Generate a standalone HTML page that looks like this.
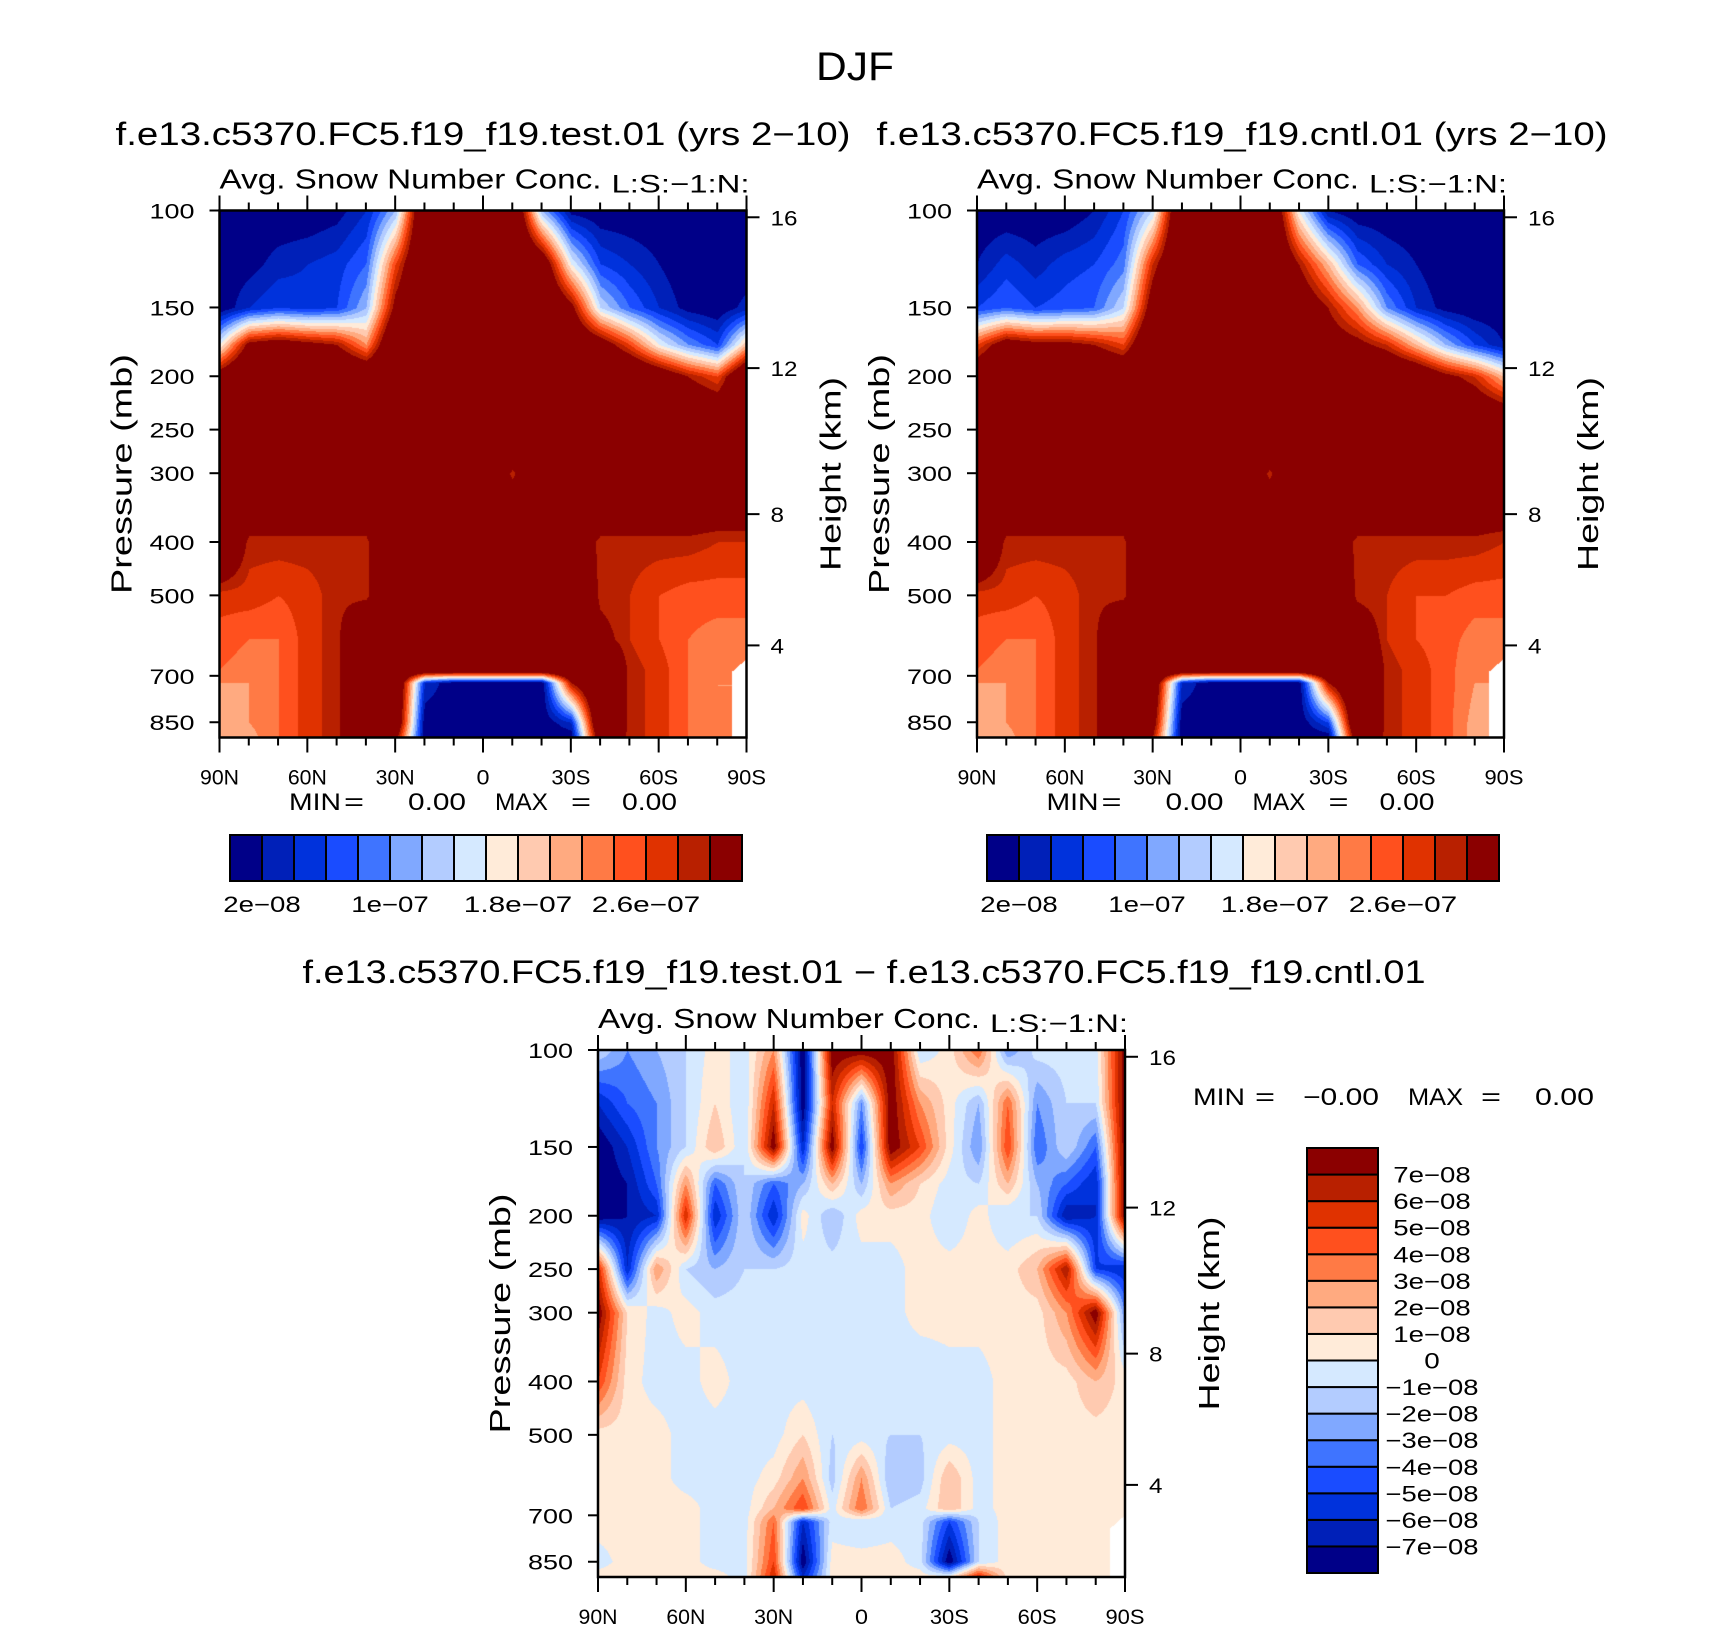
<!DOCTYPE html>
<html><head><meta charset="utf-8"><style>
html,body{margin:0;padding:0;background:#fff;width:1710px;height:1626px;overflow:hidden}
#wrap{position:relative;width:1710px;height:1626px}
canvas{position:absolute}
svg{position:absolute;left:0;top:0}
text{font-family:"Liberation Sans",sans-serif;fill:#000}
</style></head><body>
<div id="wrap">
<canvas id="c0"></canvas>
<canvas id="c1"></canvas>
<canvas id="c2"></canvas>
<svg id="ov" width="1710" height="1626"></svg>
</div>
<script>
// ---- data ----
const lats = [90,80,70,60,50,40,30,20,10,0,-10,-20,-30,-40,-50,-60,-70,-80,-90];
const pressures = [100,125,150,175,200,250,300,400,500,600,680,720,850,906];
const colors = ["#000088","#0020b8","#0032dc","#1a4cff","#3f74ff","#80a8ff","#b3ccff","#d5e9ff","#ffebd9","#ffcab0","#ffaa80","#ff7a45","#ff501e","#e03200","#b82000","#8b0000"];
const levelsAbs = [2,4,6,8,10,12,14,16,18,20,22,24,26,28,30]; // x1e-8
const levelsDiff = [-7,-6,-5,-4,-3,-2,-1,0,1,2,3,4,5,6,7]; // x1e-8
const absTickLabels = ["2e\u221208","1e\u221207","1.8e\u221207","2.6e\u221207"];
const diffTickLabels = ["\u22127e\u221208","\u22126e\u221208","\u22125e\u221208","\u22124e\u221208","\u22123e\u221208","\u22122e\u221208","\u22121e\u221208","0","1e\u221208","2e\u221208","3e\u221208","4e\u221208","5e\u221208","6e\u221208","7e\u221208"];
const presTicks = [100,150,200,250,300,400,500,700,850];
const heightTicks = [16,12,8,4];
const latTickLabels = ["90N","60N","30N","0","30S","60S","90S"];
const testField = [
[0,0,0,0,1,4,12,40,40,40,40,12,1,0,0,0,0,0,0],
[0,1,3,4,5,8,26,40,40,40,40,36,16,6,4,2,0,0,0],
[0,4,6,5,6,12,32,40,40,40,40,40,32,14,8,4,1,0,3],
[16,32,34,32,30,22,40,40,40,40,40,40,38,34,26,16,10,6,20],
[34,40,40,40,40,38,40,40,40,40,40,40,40,40,40,36,30,26,40],
[40,40,40,40,40,40,40,40,40,40,40,40,40,40,40,40,40,40,40],
[40,40,40,40,40,40,40,40,40,40,29,40,40,40,40,40,40,40,40],
[40,29,29,29,29,29,40,40,40,40,40,40,35,29,29,29,29,28,28],
[27,27,26,27,29,29,40,40,40,40,40,40,40,29,28,26,25,25,25],
[25,24,24,27,29,40,40,40,40,40,40,40,40,32,28,26,24,23,23],
[24,23,24,27,29,40,40,40,40,40,40,40,40,40,29,27,24,22,22],
[22,22,24,27,29,40,40,4,0,0,0,0,30,40,29,27,24,22,22],
[21,22,24,27,29,40,38,0,0,0,0,0,4,40,29,27,24,22,22],
[20,21,24,27,29,40,32,0,0,0,0,0,0,36,29,27,24,22,22]];
const cntlField = [
[0,0,0,0,2,6,14,40,40,40,40,16,2,0,0,0,0,0,0],
[2,5,3,5,6,9,28,40,40,40,40,30,20,8,4,2,0,0,0],
[6,8,6,7,8,14,34,40,40,40,40,36,30,22,10,4,1,0,0],
[26,34,32,32,30,26,40,40,40,40,40,40,34,32,28,20,12,6,2],
[36,40,40,40,40,38,40,40,40,40,40,40,40,40,40,38,32,28,20],
[40,40,40,40,40,40,40,40,40,40,40,40,40,40,40,40,40,40,40],
[40,40,40,40,40,40,40,40,40,40,29,40,40,40,40,40,40,40,40],
[40,29,29,29,29,29,40,40,40,40,40,40,35,29,29,29,29,29,28],
[27,27,26,27,29,29,40,40,40,40,40,40,40,29,28,26,26,25,25],
[25,24,24,27,29,40,40,40,40,40,40,40,40,36,28,26,25,23,23],
[24,23,24,27,29,40,40,40,40,40,40,40,40,40,29,27,25,22,22],
[22,22,24,27,29,40,38,4,0,0,0,0,30,40,29,27,25,22,22],
[21,22,24,27,29,40,34,0,0,0,0,0,6,40,29,27,25,21,21],
[20,21,24,27,29,40,30,0,0,0,0,0,0,36,29,27,25,21,21]];
const diffField = [
[-1,-3,-2,-1,0.5,-0.5,3,-8,8,8,8,-1,0.5,4,-3,-0.5,-0.5,-0.5,8],
[-6,-4,-3,-1,1,-1,6,-8,6,-3,8,3,0.5,-2,4,-3,-1,-1,8],
[-8,-6,-3,-1,2,-1,8,-6,8,-5,8,5,0.5,-3,5,-4,-1,-4,8],
[-8,-7,-4,3,-4,-1,-4,-2,2,-2,3,1,-0.5,-1,2,-2,-4,-6,8],
[-8,-7,-6,6,-6,-1,-6,0.5,-2,0.5,0.5,0.5,-1,0.5,-1,-1,-7,-6,8],
[6,-6,3,-1,-2,-1,-1,-0.5,-0.5,-0.5,-0.5,0.5,0.5,0.5,0.5,2,7,-5,-6],
[8,1,-0.5,0.5,-0.5,-0.5,-0.5,-0.5,-0.5,-0.5,-0.5,0.5,0.5,0.5,0.5,0.5,3,8,-3],
[5,0.5,-0.5,-0.5,0.5,-0.5,-0.5,-0.5,-1,-0.5,-0.5,-1,-0.5,-0.5,0.5,0.5,0.5,2,0.5],
[0.5,0.5,0.5,-0.5,-0.5,-0.5,-0.5,1,-1,-0.5,-1,-1,-0.5,-0.5,0.5,0.5,0.5,0.5,0.5],
[0.5,0.5,0.5,-0.5,-0.5,-0.5,0.5,3,-1.5,3,-2,-1.5,2,-0.5,0.5,0.5,0.5,0.5,0.5],
[0.5,0.5,0.5,0.5,-0.5,-0.5,2,5,-0.5,4,-1,-0.5,2,-0.5,0.5,0.5,0.5,0.5,0.5],
[0.5,0.5,0.5,0.5,-0.5,-0.5,4,-6,-0.5,-1,-0.5,-0.5,-5,-1,0.5,0.5,0.5,0.5,0.5],
[-0.5,0.5,0.5,0.5,-0.5,-0.5,5,-8,0.5,0.5,0.5,-0.5,-8,-1,0.5,0.5,0.5,0.5,0.5],
[0.5,0.5,0.5,0.5,0.5,-0.5,6,-6,0.5,0.5,0.5,0.5,0.5,6,0.5,0.5,0.5,0.5,0.5]];

// ---- layout ----
const PBOT = 906;
const panels = [
 {id:"c0", x:219.5, y:210.5, w:527, h:527, field:testField, levels:levelsAbs, name:"test", maskP:650},
 {id:"c1", x:977, y:210.5, w:527, h:527, field:cntlField, levels:levelsAbs, name:"cntl", maskP:650},
 {id:"c2", x:598, y:1050, w:527, h:527, field:diffField, levels:levelsDiff, name:"diff", maskP:700}];
function yOfP(p, pan){ return pan.y + pan.h*Math.log10(p/100)/Math.log10(PBOT/100); }
function xOfLat(lat, pan){ return pan.x + pan.w*(90-lat)/180; }
function pOfZ(z){ const m=z*1000; return m<=11000 ? 1013.25*Math.pow(1-2.25577e-5*m,5.25588) : 226.32*Math.exp(-(m-11000)/6341.6); }
function yOfZ(z, pan){ return yOfP(pOfZ(z), pan); }

function sample(field, fx, p){
  const nL = lats.length;
  let ci = fx*(nL-1); let c0 = Math.min(nL-2, Math.floor(ci)); let tx = ci-c0;
  const lp = Math.log(p);
  let r0 = 0;
  for(let i=0;i<pressures.length-1;i++){ if(p>=pressures[i]) r0=i; }
  r0 = Math.min(r0, pressures.length-2);
  let ty = (lp-Math.log(pressures[r0]))/(Math.log(pressures[r0+1])-Math.log(pressures[r0]));
  ty = Math.max(0,Math.min(1,ty));
  const a=field[r0][c0], b=field[r0][c0+1], c=field[r0+1][c0], d=field[r0+1][c0+1];
  return (a*(1-tx)+b*tx)*(1-ty)+(c*(1-tx)+d*tx)*ty;
}
function hex(h){ return [parseInt(h.substr(1,2),16),parseInt(h.substr(3,2),16),parseInt(h.substr(5,2),16)]; }
const rgb = colors.map(hex);
panels.forEach(pan=>{
  const cv = document.getElementById(pan.id);
  const W=Math.round(pan.w), H=Math.round(pan.h);
  cv.width=W; cv.height=H;
  cv.style.left=pan.x+"px"; cv.style.top=pan.y+"px";
  const ctx=cv.getContext("2d"); const img=ctx.createImageData(W,H);
  for(let j=0;j<H;j++){
    const p = 100*Math.pow(PBOT/100,(j+0.5)/H);
    for(let i=0;i<W;i++){
      const fx=(i+0.5)/W; const o=(j*W+i)*4;
      // missing data near the south pole at low levels
      if(fx>0.972 && p>pan.maskP*(1+ (1-fx)*2)){ img.data[o]=255;img.data[o+1]=255;img.data[o+2]=255;img.data[o+3]=255; continue; }
      const v = sample(pan.field,fx,p);
      let k=0; for(const L of pan.levels){ if(v>=L) k++; }
      const c=rgb[k];
      img.data[o]=c[0];img.data[o+1]=c[1];img.data[o+2]=c[2];img.data[o+3]=255;
    }
  }
  ctx.putImageData(img,0,0);
});

// ---- overlay ----
const NS="http://www.w3.org/2000/svg";
const ov=document.getElementById("ov");
function el(tag, attrs, txt){
  const e=document.createElementNS(NS,tag);
  for(const k in attrs) e.setAttribute(k,attrs[k]);
  if(txt!==undefined) e.textContent=txt;
  ov.appendChild(e); return e;
}
function line(x1,y1,x2,y2,w){ const l=el("line",{x1:x1,y1:y1,x2:x2,y2:y2,stroke:"#000","stroke-width":w||2});   return l; }
function txt(x,y,s,size,anchor,len,extra){
  const a={x:x,y:y,"font-size":size,"text-anchor":anchor||"middle"};
  if(len){ a.textLength=len; a.lengthAdjust="spacingAndGlyphs"; }
  if(extra) for(const k in extra) a[k]=extra[k];
  return el("text",a,s);
}

let t;
t=txt(855,80,"DJF",40,"middle",78);  

panels.forEach(pan=>{
  const R=pan.x+pan.w, B=pan.y+pan.h;
  const fr=el("rect",{x:pan.x,y:pan.y,width:pan.w,height:pan.h,fill:"none",stroke:"#000","stroke-width":2.5});
   
  for(let lat=90;lat>=-90;lat-=10){
    const x=xOfLat(lat,pan); const major=(lat%30===0);
    line(x,B,x,B+(major?15:8),2); line(x,pan.y,x,pan.y-(major?15:8),2);
  }
  latTickLabels.forEach((s,i)=>{
    const x=xOfLat(90-30*i,pan);
    t=txt(x,B+47,s,21,"middle",s.length*13);  
  });
  presTicks.forEach(p=>{
    const y=yOfP(p,pan); line(pan.x-10,y,pan.x,y,2);
    t=txt(pan.x-25,y+8,String(p),21,"end",String(p).length*15);  
  });
  heightTicks.forEach(z=>{
    const y=yOfZ(z,pan); line(R,y,R+13,y,2);
    t=txt(R+24,y+8,String(z),21,"start",String(z).length*13.5);  
  });
  const cy=pan.y+pan.h/2;
  t=txt(pan.x-88,cy,"Pressure  (mb)",29,"middle",240,{transform:`rotate(-90 ${pan.x-88} ${cy})`});
   
  t=txt(R+94,cy,"Height  (km)",29,"middle",194,{transform:`rotate(-90 ${R+94} ${cy})`});
   
  t=txt(pan.x,pan.y-22,"Avg.  Snow  Number  Conc.",28,"start",382);
   
  t=txt(pan.x+392,pan.y-18,"L:S:\u22121:N:",25,"start",138);
   
});

t=txt(483,145,"f.e13.c5370.FC5.f19_f19.test.01  (yrs  2\u221210)",32,"middle",735);
 
t=txt(1242,145,"f.e13.c5370.FC5.f19_f19.cntl.01  (yrs  2\u221210)",32,"middle",731);
 
t=txt(864,983,"f.e13.c5370.FC5.f19_f19.test.01  \u2212  f.e13.c5370.FC5.f19_f19.cntl.01",32,"middle",1123);
 

function minmax(dx, y, parts){
  parts.forEach(([x,s,len])=>{
    const e=txt(x+dx,y,s,24,"start",len);
     
  });
}
const mmParts=[[289,"MIN",52],[344,"=",20],[408,"0.00",58],[495,"MAX",53],[571,"=",20],[622,"0.00",55]];
minmax(0,810,mmParts); minmax(757.5,810,mmParts);
minmax(0,1105,[[1193,"MIN",52],[1255,"=",20],[1303,"\u22120.00",76],[1408,"MAX",55],[1481,"=",20],[1535,"0.00",59]]);

// horizontal colorbars
[230,987].forEach(cx0=>{
  const cw=512/16;
  colors.forEach((c,i)=>{
    const r=el("rect",{x:cx0+i*cw,y:835,width:cw,height:46,fill:c,stroke:"#000","stroke-width":2});
     
  });
  absTickLabels.forEach((s,i)=>{
    t=txt(cx0+cw*(1+4*i),912,s,22,"middle",s.length*15.5);  
  });
});
// vertical colorbar
{
  const top=1148, bh=425/16, x0=1307;
  colors.forEach((c,i)=>{
    const r=el("rect",{x:x0,y:top+(15-i)*bh,width:71,height:bh,fill:c,stroke:"#000","stroke-width":2});
     
  });
  diffTickLabels.forEach((s,i)=>{
    const y=top+(15-i)*bh;
    t=txt(1432,y+8,s,22,"middle",s.length*15.5);  
  });
}
</script>
</body></html>
